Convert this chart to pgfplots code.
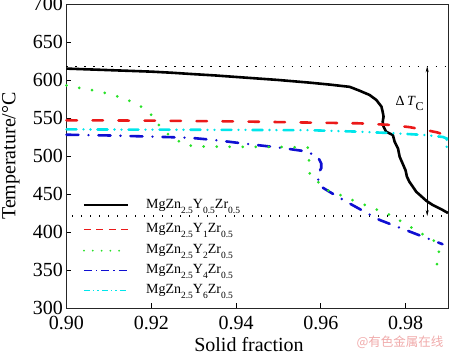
\documentclass[border=0pt]{standalone}
\usepackage{pgfplots}
\pgfplotsset{compat=1.18}
\usepackage{fontspec}
\setmainfont{Liberation Serif}
\newfontfamily\cjk{Noto Sans CJK SC}
\usetikzlibrary{arrows.meta}
\definecolor{cRed}{RGB}{235,25,25}
\definecolor{cGreen}{RGB}{40,225,40}
\definecolor{cBlue}{RGB}{15,15,210}
\definecolor{cCyan}{RGB}{0,230,235}
\definecolor{wm}{RGB}{240,170,170}
\newcommand\sub[1]{\raisebox{-5pt}{\fontsize{9.5}{10}\selectfont #1}}
\begin{document}
\begin{tikzpicture}
\path[use as bounding box] (-66.5pt,-47pt) rectangle (383.5pt,308pt);
\begin{axis}[
  at={(0pt,0pt)}, anchor=south west,
  scale only axis, width=381.5pt, height=304pt,
  xmin=0.90, xmax=0.99, ymin=300, ymax=700,
  xtick={0.90,0.92,0.94,0.96,0.98},
  xticklabels={0.90,0.92,0.94,0.96,0.98},
  ytick={300,350,400,450,500,550,600,650,700},
  yticklabels={300,350,400,450,500,550,600,650,700},
  tick align=inside, tick pos=left,
  major tick length=5pt,
  tick style={black, line width=0.7pt},
  axis line style={black!85, line width=0.8pt},
  ticklabel style={font=\rmfamily\fontsize{20}{22}\selectfont},
  xticklabel style={yshift=-4.3pt},
  xlabel={Solid fraction},
  ylabel={Temperature/°C},
  label style={font=\rmfamily\fontsize{20}{22}\selectfont},
  xlabel style={at={(axis description cs:0.4784,0)}, anchor=base, yshift=-43.5pt},
  ylabel style={at={(axis description cs:-0.1337,0.5)}, anchor=base},
  clip=false,
]
% reference dotted lines
\addplot[black, line width=1.3pt, dash pattern=on 1.3pt off 7.7pt] coordinates {(0.900,618) (0.990,618)};
\addplot[black, line width=1.3pt, dash pattern=on 1.3pt off 7.7pt] coordinates {(0.9013,421) (0.990,421)};
% MgZn2.5Y0.5Zr0.5
\addplot[black, line width=2.6pt, line join=round] coordinates {
(0.900,615) (0.905,614) (0.910,613) (0.915,612) (0.920,611) (0.925,609.5) (0.9291,608) (0.935,606) (0.940,604) (0.945,602) (0.950,600) (0.9574,596.5) (0.962,594) (0.9668,591) (0.9691,586) (0.9715,580.3) (0.9731,573.7) (0.9743,565) (0.9746,558) (0.9748,551.7) (0.9746,545) (0.9748,538.6) (0.9754,532) (0.9770,527.6) (0.9774,519) (0.9782,510) (0.9786,499) (0.9793,490) (0.9800,481) (0.9803,473) (0.9809,466) (0.9817,459.6) (0.9825,453) (0.9837,447) (0.9849,441) (0.9864,435.5) (0.9884,430) (0.9900,425)};
% MgZn2.5Y1Zr0.5
\addplot[cRed, line width=2.6pt, line cap=round, dash pattern=on 10.5pt off 15.5pt] coordinates {
(0.900,547) (0.920,546.5) (0.940,545.5) (0.957,544) (0.969,543) (0.976,541) (0.9809,538) (0.9849,534) (0.9875,531) (0.9900,526)};
% MgZn2.5Y6Zr0.5
\addplot[cCyan, line width=2.6pt, line cap=round, dash pattern=on 10pt off 7pt on 0pt off 7pt on 0pt off 7pt] coordinates {
(0.900,535) (0.930,534.5) (0.957,534) (0.969,532) (0.977,530) (0.9849,527.5) (0.9888,525) (0.9897,523) (0.9897,506)};
% MgZn2.5Y4Zr0.5
\addplot[cBlue, line width=2.6pt, line cap=round, dash pattern=on 12pt off 10pt on 0pt off 10pt] coordinates {
(0.900,528) (0.910,527) (0.920,525.5) (0.9291,524) (0.935,521) (0.9424,516) (0.9503,511) (0.9566,506) (0.9593,499) (0.9601,490) (0.9601,484) (0.9593,476) (0.9594,468) (0.9597,461) (0.9620,453) (0.9660,440) (0.9715,423) (0.9738,416) (0.9817,399) (0.9887,384)};
% MgZn2.5Y2Zr0.5
\addplot[cGreen, line width=3pt, line cap=round, dash pattern=on 0pt off 13pt] coordinates {
(0.900,593) (0.9036,589) (0.9071,585.5) (0.9106,581) (0.9139,575) (0.9168,568) (0.9191,559) (0.9208,550) (0.9219,540) (0.9228,533) (0.9244,527) (0.9263,520) (0.9283,514) (0.932,512.5) (0.940,512) (0.950,512) (0.9569,511) (0.9573,504) (0.9572,490) (0.9574,475) (0.9590,468) (0.9604,460) (0.9616,455) (0.9640,450) (0.9683,440) (0.9730,430) (0.9769,421) (0.9816,405) (0.9856,392) (0.9872,387) (0.9876,381) (0.9880,370) (0.9874,363) (0.9874,357) (0.9888,343)};
% Delta T_C arrow
\draw[black, line width=0.6pt, {Stealth[length=6pt,width=3pt]}-{Stealth[length=6pt,width=3pt]}] (axis cs:0.9851,618) -- (axis cs:0.9851,421);
\node[anchor=base west, inner sep=0pt, font=\rmfamily\fontsize{14}{16}\selectfont] at (axis cs:0.97762,567) {Δ\,\textit{T}\raisebox{-5.5pt}{\fontsize{12}{13}\selectfont C}};
% legend
\addplot[black, line width=1.5pt] coordinates {(0.90412,435.5) (0.91449,435.5)};
\addplot[cRed, line width=1.5pt, dash pattern=on 7pt off 5.5pt] coordinates {(0.90412,403.6) (0.91449,403.6)};
\addplot[cGreen, line width=2pt, line cap=round, dash pattern=on 0pt off 8.8pt] coordinates {(0.90412,375.4) (0.91449,375.4)};
\addplot[cBlue, line width=1.5pt, dash pattern=on 8pt off 4pt on 1.5pt off 4pt] coordinates {(0.90412,349.1) (0.91449,349.1)};
\addplot[cCyan, line width=1.5pt, dash pattern=on 6pt off 3pt on 1.5pt off 3pt on 1.5pt off 3pt] coordinates {(0.90412,322.8) (0.91449,322.8)};
\node[anchor=base west, inner sep=0pt, font=\rmfamily\fontsize{14}{16}\selectfont] at (axis cs:0.91873,431.2) {MgZn\sub{2.5}Y\sub{0.5}Zr\sub{0.5}};
\node[anchor=base west, inner sep=0pt, font=\rmfamily\fontsize{14}{16}\selectfont] at (axis cs:0.91873,399.3) {MgZn\sub{2.5}Y\sub{1}Zr\sub{0.5}};
\node[anchor=base west, inner sep=0pt, font=\rmfamily\fontsize{14}{16}\selectfont] at (axis cs:0.91873,371.1) {MgZn\sub{2.5}Y\sub{2}Zr\sub{0.5}};
\node[anchor=base west, inner sep=0pt, font=\rmfamily\fontsize{14}{16}\selectfont] at (axis cs:0.91873,344.8) {MgZn\sub{2.5}Y\sub{4}Zr\sub{0.5}};
\node[anchor=base west, inner sep=0pt, font=\rmfamily\fontsize{14}{16}\selectfont] at (axis cs:0.91873,318.5) {MgZn\sub{2.5}Y\sub{6}Zr\sub{0.5}};
\end{axis}
\node[text=wm, inner sep=0pt, font=\cjk\fontsize{12.5}{14}\selectfont] at (333.5pt,-34pt) {@有色金属在线};
\end{tikzpicture}
\end{document}
